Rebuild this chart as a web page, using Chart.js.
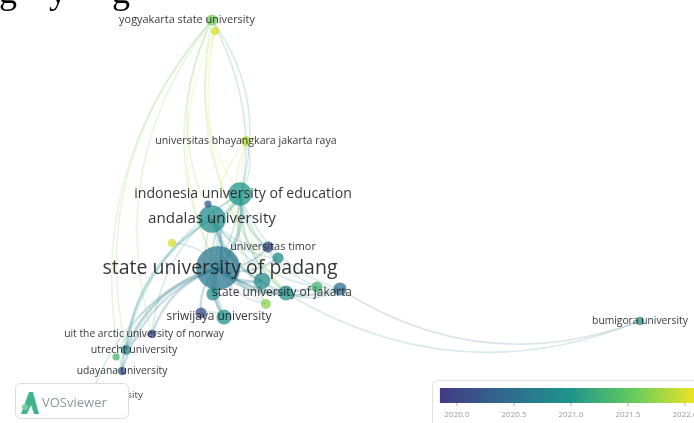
<!DOCTYPE html>
<html>
<head>
<meta charset="utf-8">
<script src="https://cdn.jsdelivr.net/npm/chart.js@4.4.1/dist/chart.umd.min.js"></script>
<style>
  html, body { margin: 0; padding: 0; background: #fff; overflow: hidden; }
  #wrap { width: 694px; height: 423px; position: relative; }
</style>
</head>
<body>
<div id="wrap"><canvas id="map"></canvas></div>
<script>
// overlay map: organisations, map coordinates, documents, avg. publication year
const nodeNames = ['state university of padang', 'indonesia university of education', 'andalas university',
  'yogyakarta state university', '', 'universitas bhayangkara jakarta raya', '', 'universitas timor', '', '',
  'state university of jakarta', '', '', '', '', '', 'sriwijaya university', 'uit the arctic university of norway',
  'utrecht university', '', 'udayana university', 'padjadjaran university', 'bumigora university', ''];
const nodeX = [-1.29, -1.07, -1.35, -1.35, -1.32, -1.01, -1.75, -0.79, -0.69, -0.85, -0.61, -0.30, -0.07, -0.81,
  -1.34, -1.46, -1.23, -1.95, -2.21, -2.31, -2.25, -2.55, 2.93, -1.39];
const nodeY = [-0.565, 0.175, -0.075, 1.915, 1.805, 0.705, -0.315, -0.355, -0.465, -0.695, -0.815, -0.755, -0.775,
  -0.925, -0.825, -1.015, -1.055, -1.225, -1.385, -1.455, -1.595, -1.835, -1.095, 0.075];
const nodeDocs = [77, 22, 30, 5, 3, 4, 3, 5, 5, 11, 9, 5, 7, 4, 7, 5, 9, 3, 4, 2, 3, 2, 3, 2];
const nodeYear = [2020.6, 2021.0, 2020.9, 2021.6, 2022.0, 2021.85, 2022.0, 2020.1, 2020.9, 2020.85, 2020.95, 2021.3,
  2020.45, 2021.7, 2020.9, 2020.1, 2020.95, 2020.1, 2020.8, 2021.3, 2020.1, 2020.5, 2020.9, 2020.2];

// links: [from, to, strength]
const links = [
  [0,1,3],[0,2,3],[3,0,1],[0,3,1],[4,0,1],[5,0,1],[0,6,1],[0,7,2],[0,8,2],[0,9,3],[0,10,3],[0,11,2],[0,12,2],
  [0,13,1],[0,14,2],[0,15,2],[0,16,3],[0,17,2],[0,18,3],[0,19,1],[0,20,2],[0,21,1],[12,22,1],[10,22,1],[0,23,1],
  [2,1,2],[3,2,1],[2,7,1],[2,9,2],[2,10,2],[2,16,1],[2,18,2],[2,20,1],[2,8,1],[2,12,1],[2,13,1],
  [1,3,1],[1,5,1],[1,10,2],[1,12,1],[1,16,1],[1,17,1],[1,20,1],[1,9,1],[1,8,1],[1,7,1],[1,11,1],[1,14,1],
  [3,18,1],[3,20,1],[3,17,1],[3,10,1],[4,10,1],[5,10,1],[5,13,1],[4,1,1],
  [10,12,1],[10,11,1],[9,13,1],[16,15,1],[18,20,1],[17,18,1]
];

// colour scale
const scaleYears = [2019.85, 2020.4, 2021.0, 2021.55, 2022.13];
const scaleColors = ['#433a85', '#30688e', '#1f958b', '#66cb5d', '#f6e620'];
const tickYears = [2020.0, 2020.5, 2021.0, 2021.5, 2022.0];
const tickLabels = ['2020.0', '2020.5', '2021.0', '2021.5', '2022.0'];

// label nudges in px (style only)
const labelShift = { 0: 2, 1: 3, 3: -25, 7: 5, 10: -4, 16: -5, 17: -8, 18: 8 };

function hexRgb(h) {
  return [parseInt(h.slice(1,3),16), parseInt(h.slice(3,5),16), parseInt(h.slice(5,7),16)];
}
function yearColor(y, a) {
  let i = 0;
  while (i < scaleYears.length - 2 && y > scaleYears[i+1]) i++;
  let t = (y - scaleYears[i]) / (scaleYears[i+1] - scaleYears[i]);
  t = Math.max(0, Math.min(1, t));
  const c0 = hexRgb(scaleColors[i]), c1 = hexRgb(scaleColors[i+1]);
  const c = c0.map((v, k) => Math.round(v + (c1[k] - v) * t));
  return 'rgba(' + c[0] + ',' + c[1] + ',' + c[2] + ',' + a + ')';
}

const linkPlugin = {
  id: 'links',
  beforeDatasetsDraw(chart) {
    const pts = chart.getDatasetMeta(0).data;
    const ctx = chart.ctx;
    ctx.save();
    links.forEach(function(l) {
      const a = pts[l[0]], b = pts[l[1]];
      const dx = b.x - a.x, dy = b.y - a.y;
      const cx = (a.x + b.x) / 2 - dy * 0.25, cy = (a.y + b.y) / 2 + dx * 0.25;
      ctx.beginPath();
      ctx.moveTo(a.x, a.y);
      ctx.quadraticCurveTo(cx, cy, b.x, b.y);
      ctx.strokeStyle = yearColor(nodeYear[l[0]], 0.12 + 0.06 * l[2]);
      ctx.lineWidth = 0.8 + 0.8 * l[2];
      ctx.stroke();
    });
    ctx.restore();
  }
};

const labelPlugin = {
  id: 'labels',
  afterDatasetsDraw(chart) {
    const pts = chart.getDatasetMeta(0).data;
    const ctx = chart.ctx;
    ctx.save();
    ctx.textAlign = 'center';
    ctx.textBaseline = 'middle';
    nodeNames.forEach(function(name, i) {
      if (!name) return;
      const size = 1.14 * (7 + 1.15 * Math.sqrt(nodeDocs[i]));
      ctx.font = size.toFixed(1) + 'px "Open Sans", sans-serif';
      ctx.fillStyle = 'rgba(30,30,30,0.9)';
      ctx.fillText(name, pts[i].x + (labelShift[i] || 0), pts[i].y);
    });
    ctx.restore();
  }
};

function roundRect(ctx, x, y, w, h, r) {
  ctx.beginPath();
  ctx.moveTo(x + r, y);
  ctx.arcTo(x + w, y, x + w, y + h, r);
  ctx.arcTo(x + w, y + h, x, y + h, r);
  ctx.arcTo(x, y + h, x, y, r);
  ctx.arcTo(x, y, x + w, y, r);
  ctx.closePath();
}

const decorPlugin = {
  id: 'decor',
  afterDraw(chart) {
    const ctx = chart.ctx;
    ctx.save();
    // bottom of the page caption above the figure
    ctx.fillStyle = '#000';
    ctx.font = '36px "Liberation Serif", serif';
    ctx.textAlign = 'left';
    ctx.textBaseline = 'alphabetic';
    ctx.fillText('g', -1, 3);
    ctx.fillText('y', 49, 3);
    ctx.fillText('g', 112, 3);

    // VOSviewer logo
    roundRect(ctx, 15.5, 383.5, 113, 35, 5);
    ctx.fillStyle = '#fff';
    ctx.fill();
    ctx.strokeStyle = '#dcdcdc';
    ctx.lineWidth = 1;
    ctx.stroke();
    ctx.beginPath();
    ctx.moveTo(21, 414); ctx.lineTo(29, 392); ctx.lineTo(33, 392); ctx.lineTo(39, 414);
    ctx.lineTo(34, 414); ctx.lineTo(31, 405); ctx.lineTo(27, 414); ctx.closePath();
    ctx.fillStyle = '#3fb58a';
    ctx.fill();
    ctx.beginPath();
    ctx.arc(25, 407, 3, 0, Math.PI * 2);
    ctx.fillStyle = '#7fcf9f';
    ctx.fill();
    ctx.font = '13px "Open Sans", sans-serif';
    ctx.fillStyle = '#8c9696';
    ctx.textBaseline = 'middle';
    ctx.fillText('VOSviewer', 42, 403);

    // colour bar
    roundRect(ctx, 432.5, 380.5, 275, 50, 5);
    ctx.fillStyle = '#fff';
    ctx.fill();
    ctx.strokeStyle = '#e2e2e2';
    ctx.stroke();
    const yx = function(y) { return 457 + (y - 2020) * 114; };
    const g = ctx.createLinearGradient(yx(scaleYears[0]), 0, yx(scaleYears[scaleYears.length - 1]), 0);
    scaleYears.forEach(function(y, i) {
      g.addColorStop((y - scaleYears[0]) / (scaleYears[scaleYears.length - 1] - scaleYears[0]), scaleColors[i]);
    });
    ctx.fillStyle = g;
    ctx.fillRect(yx(scaleYears[0]), 388, yx(scaleYears[scaleYears.length - 1]) - yx(scaleYears[0]), 15);
    ctx.font = '8px "Open Sans", sans-serif';
    ctx.textAlign = 'center';
    tickYears.forEach(function(y, i) {
      ctx.fillStyle = 'rgba(120,120,120,0.6)';
      ctx.fillRect(yx(y) - 0.5, 403, 1, 3);
      ctx.fillStyle = '#9a9a9a';
      ctx.fillText(tickLabels[i], yx(y), 415);
    });
    ctx.restore();
  }
};

const nodes = nodeX.map(function(x, i) {
  return { x: x, y: nodeY[i], r: 2.5 * Math.sqrt(nodeDocs[i]) };
});

new Chart(document.getElementById('map').getContext('2d'), {
  type: 'bubble',
  data: {
    datasets: [{
      data: nodes,
      backgroundColor: nodeYear.map(function(y) { return yearColor(y, 0.75); }),
      borderWidth: 0,
      clip: false
    }]
  },
  options: {
    responsive: true,
    maintainAspectRatio: false,
    animation: false,
    layout: { padding: 0, autoPadding: false },
    plugins: { legend: { display: false }, tooltip: { enabled: false } },
    scales: {
      x: { type: 'linear', min: -3.47, max: 3.47, display: false },
      y: { type: 'linear', min: -2.115, max: 2.115, display: false }
    }
  },
  plugins: [linkPlugin, labelPlugin, decorPlugin]
});
</script>
</body>
</html>
